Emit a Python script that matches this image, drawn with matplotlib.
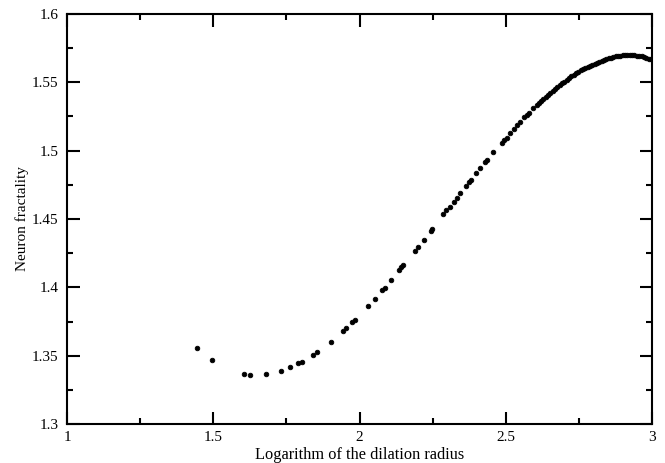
import numpy as np
import matplotlib
matplotlib.use('Agg')
import matplotlib.pyplot as plt
from matplotlib.ticker import MultipleLocator

plt.rcParams['font.family'] = ['Liberation Serif', 'DejaVu Serif']

# log of dilation radius vs. fractality
log_radius = [
	1.443, 1.496, 1.606, 1.627, 1.681, 1.730, 1.761, 1.791, 1.804, 1.842, 1.855, 1.901,
	1.945, 1.953, 1.974, 1.984, 2.029, 2.054, 2.077, 2.086, 2.108, 2.136, 2.143, 2.150,
	2.190, 2.201, 2.220, 2.243, 2.249, 2.285, 2.297, 2.308, 2.322, 2.332, 2.344, 2.363,
	2.373, 2.380, 2.398, 2.413, 2.429, 2.435, 2.457, 2.486, 2.495, 2.503, 2.515, 2.528,
	2.538, 2.549, 2.562, 2.571, 2.580, 2.594, 2.606, 2.612,
	2.620, 2.628, 2.636, 2.644, 2.652, 2.660, 2.668, 2.676, 2.684, 2.692, 2.700, 2.708,
	2.716, 2.724, 2.732, 2.740, 2.748, 2.756, 2.764, 2.772, 2.780, 2.788, 2.796, 2.804,
	2.812, 2.820, 2.828, 2.836, 2.844, 2.852, 2.860, 2.868, 2.876, 2.884, 2.892, 2.900,
	2.908, 2.916, 2.924, 2.932, 2.940, 2.948, 2.956, 2.964, 2.972, 2.980, 2.988, 2.996,
]
fractality = [
	1.3556, 1.3466, 1.3366, 1.3361, 1.3364, 1.3388, 1.3415, 1.3444, 1.3454, 1.3507, 1.3525, 1.3602,
	1.3683, 1.3700, 1.3744, 1.3761, 1.3861, 1.3917, 1.3978, 1.3997, 1.4054, 1.4127, 1.4147, 1.4163,
	1.4266, 1.4295, 1.4349, 1.4412, 1.4427, 1.4534, 1.4564, 1.4590, 1.4627, 1.4654, 1.4690, 1.4741,
	1.4768, 1.4785, 1.4840, 1.4876, 1.4919, 1.4932, 1.4990, 1.5054, 1.5078, 1.5095, 1.5131, 1.5158,
	1.5185, 1.5207, 1.5244, 1.5263, 1.5276, 1.5310, 1.5334, 1.5346,
	1.5360, 1.5377, 1.5393, 1.5408, 1.5424, 1.5440, 1.5453, 1.5466, 1.5479, 1.5492, 1.5505, 1.5518,
	1.5531, 1.5544, 1.5557, 1.5568, 1.5578, 1.5587, 1.5595, 1.5603, 1.5612, 1.5620, 1.5628, 1.5636,
	1.5643, 1.5650, 1.5657, 1.5664, 1.5670, 1.5675, 1.5680, 1.5685, 1.5689, 1.5692, 1.5695, 1.5697,
	1.5699, 1.5700, 1.5700, 1.5700, 1.5698, 1.5696, 1.5693, 1.5689, 1.5684, 1.5679, 1.5673, 1.5667,
]

xticks = [1, 1.5, 2, 2.5, 3]
xticklabels = ['1', '1.5', '2', '2.5', '3']
yticks = [1.3, 1.35, 1.4, 1.45, 1.5, 1.55, 1.6]
yticklabels = ['1.3', '1.35', '1.4', '1.45', '1.5', '1.55', '1.6']

fig = plt.figure(figsize=(6.65, 4.63), dpi=100)
ax = fig.add_axes([0.1008, 0.0842, 0.8797, 0.8856])

ax.plot(log_radius, fractality, 'o', color='black', markersize=3.3, markeredgewidth=0.6)

ax.set_xlim(1, 3)
ax.set_ylim(1.3, 1.6)
ax.set_xticks(xticks)
ax.set_xticklabels(xticklabels)
ax.set_yticks(yticks)
ax.set_yticklabels(yticklabels)
ax.xaxis.set_minor_locator(MultipleLocator(0.25))
ax.yaxis.set_minor_locator(MultipleLocator(0.025))

ax.tick_params(which='both', direction='in', top=True, right=True, width=1.5, labelsize=11)
ax.tick_params(which='major', length=9)
ax.tick_params(which='minor', length=4.5)
ax.tick_params(axis='x', pad=5)
ax.tick_params(axis='y', pad=6)
for s in ax.spines.values():
	s.set_linewidth(1.5)

ax.set_xlabel('Logarithm of the dilation radius', fontsize=11.8, labelpad=2)
ax.set_ylabel('Neuron fractality', fontsize=11, labelpad=2)

fig.savefig('out.png', dpi=100)
